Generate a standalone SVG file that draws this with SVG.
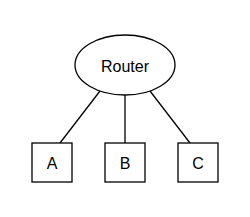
<svg xmlns="http://www.w3.org/2000/svg" width="250" height="217" viewBox="0 0 250 217">
<style>
.s{fill:#fff;stroke:#000;stroke-width:1.3}
.l{stroke:#000;stroke-width:1.3;fill:none}
.t{font-family:"Liberation Sans",Arial,sans-serif;font-size:16px;fill:#000;text-anchor:middle;dominant-baseline:central}
</style>
<rect width="250" height="217" fill="#fff"/>
<g id="connectors">
<line class="l" x1="100" y1="91" x2="60" y2="143"/>
<line class="l" x1="125" y1="95" x2="125" y2="143"/>
<line class="l" x1="150" y1="91" x2="190" y2="143"/>
</g>
<g id="router"><ellipse class="s" cx="125" cy="65" rx="50" ry="30"/><text class="t" x="125" y="66">Router</text></g>
<g id="A"><rect class="s" x="32" y="143" width="40" height="39"/><text class="t" x="52" y="163">A</text></g>
<g id="B"><rect class="s" x="105" y="143" width="40" height="39"/><text class="t" x="125" y="163">B</text></g>
<g id="C"><rect class="s" x="178" y="143" width="40" height="39"/><text class="t" x="198" y="163">C</text></g>
</svg>
